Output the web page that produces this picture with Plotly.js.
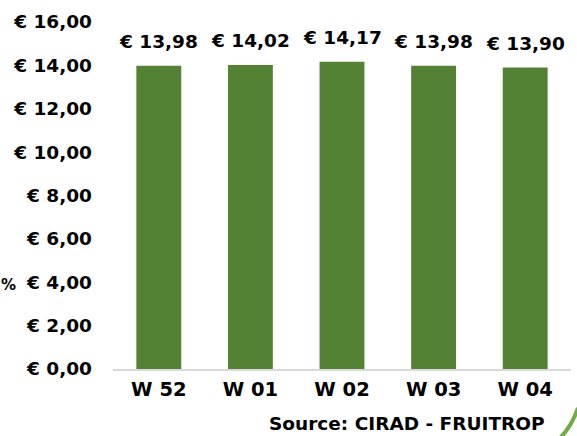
<!DOCTYPE html>
<html><head><meta charset="utf-8">
<script src="https://cdn.plot.ly/plotly-3.0.1.min.js"></script>
<style>html,body{margin:0;padding:0;background:#fff}#c{width:577px;height:436px}</style>
</head><body><div id="c"></div>
<script>
const categories = ["W 52", "W 01", "W 02", "W 03", "W 04"];
const values = [13.98, 14.02, 14.17, 13.98, 13.90];
const valueLabels = ["€ 13,98", "€ 14,02", "€ 14,17", "€ 13,98", "€ 13,90"];
const tickValues = [0, 2, 4, 6, 8, 10, 12, 14, 16];
const tickLabels = ["€ 0,00", "€ 2,00", "€ 4,00", "€ 6,00", "€ 8,00", "€ 10,00", "€ 12,00", "€ 14,00", "€ 16,00"];

const W = 577, H = 436, L = 113, R = 6, T = 22, B = 67;
const pw = W - L - R, ph = H - T - B;
const FONT = "'DejaVu Sans', sans-serif";

const annotations = categories.map((c, i) => ({
  x: c, y: values[i], xref: 'x', yref: 'y', text: '<b>' + valueLabels[i] + '</b>',
  showarrow: false, yanchor: 'bottom', yshift: 12,
  font: {family: FONT, size: 18.5, color: '#000'}
}));
annotations.push({
  xref: 'paper', yref: 'paper', x: 1 - 24/pw, y: -(423 - T - ph)/ph,
  xanchor: 'right', yanchor: 'middle', showarrow: false,
  text: '<b>Source: CIRAD - FRUITROP</b>', font: {family: FONT, size: 18.5, color: '#000'}
});
annotations.push({
  xref: 'paper', yref: 'paper', x: -(L + 1)/pw, y: (H - B - 285)/ph,
  xanchor: 'left', yanchor: 'middle', showarrow: false,
  text: '<b>%</b>', font: {family: FONT, size: 15, color: '#000'}
});

function px(x){return (x - L)/pw;}
function py(y){return (H - B - y)/ph;}

Plotly.newPlot('c', [{
  type: 'bar', x: categories, y: values,
  marker: {color: '#548235'}, width: 0.49, hoverinfo: 'none'
}], {
  width: W, height: H,
  margin: {l: L, r: R, t: T, b: B, pad: 0},
  paper_bgcolor: '#fff', plot_bgcolor: '#fff',
  showlegend: false,
  xaxis: {
    showline: true, linecolor: '#d9d9d9', linewidth: 2, ticks: '', showgrid: false,
    tickfont: {family: FONT, size: 19.5, color: '#000', weight: 'bold'}, ticklabelstandoff: 2
  },
  yaxis: {
    range: [0, 16], tickvals: tickValues, ticktext: tickLabels,
    showgrid: false, zeroline: false, showline: false, ticks: '',
    tickfont: {family: FONT, size: 18.5, color: '#000', weight: 'bold'}, ticklabelstandoff: 20
  },
  annotations: annotations,
  shapes: [{
    type: 'path', xref: 'paper', yref: 'paper',
    path: 'M ' + px(558) + ' ' + py(440) + ' Q ' + px(571) + ' ' + py(428) + ' ' + px(578) + ' ' + py(408),
    line: {color: '#70ad47', width: 4}
  }]
}, {displayModeBar: false, staticPlot: true});
</script></body></html>
